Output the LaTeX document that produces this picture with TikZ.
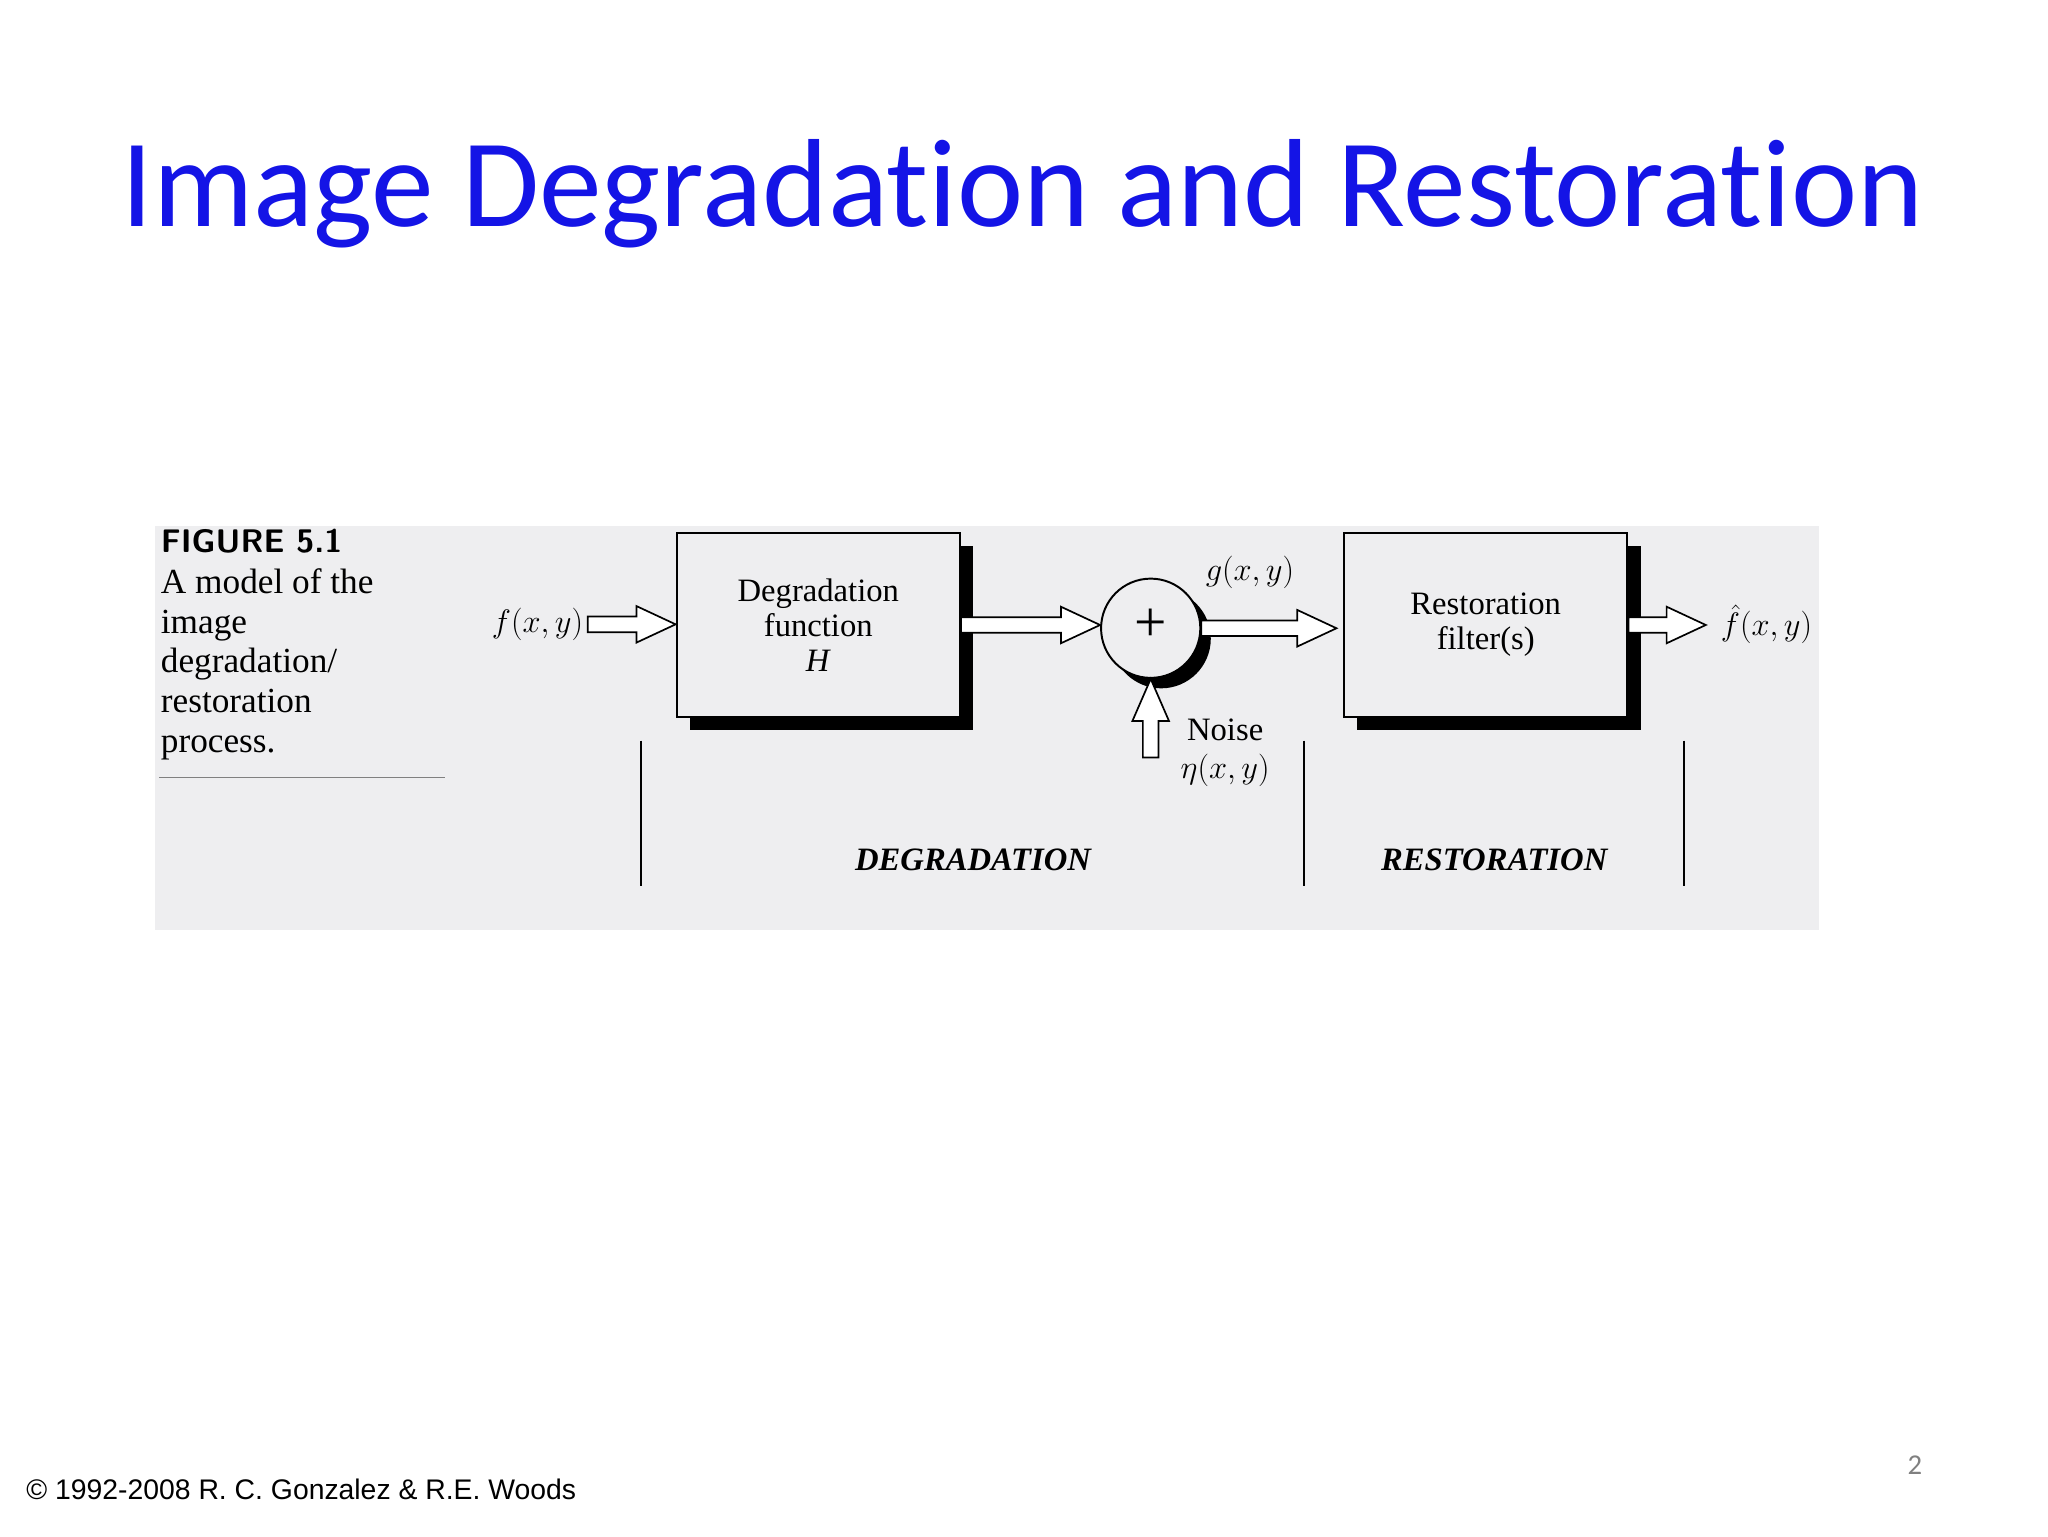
\documentclass[tikz,border=0pt]{standalone}
\usepackage{fontspec}
\newfontfamily\titlefont[Ligatures=NoCommon]{Carlito}
\newfontfamily\footfont{Liberation Sans}
\newfontfamily\figfont{Liberation Serif}
\usetikzlibrary{calc}
\definecolor{titleblue}{RGB}{20,20,230}
\definecolor{panel}{RGB}{238,238,240}
\tikzset{
  blk/.style={draw,line width=1.5pt,fill=panel,minimum width=217pt,minimum height=141pt,align=center,font=\figfont\fontsize{25}{27}\selectfont},
  sep/.style={line width=1.5pt},
  lbl/.style={font=\figfont\fontsize{25}{29}\selectfont},
  part/.style={font=\figfont\bfseries\itshape\fontsize{25}{28}\selectfont},
}
\newcommand{\harrow}[2]{\draw[line width=1.3pt,fill=white] let \p1=#1, \p2=#2 in
  (\x1,\y1-6) -- (\x2-30,\y1-6) -- (\x2-30,\y1-14) -- (\x2,\y1) -- (\x2-30,\y1+14) -- (\x2-30,\y1+6) -- (\x1,\y1+6) -- cycle;}
\begin{document}
\begin{tikzpicture}[x=1pt,y=-1pt]
\useasboundingbox[fill=white] (0,0) rectangle (1568,1176);
\node[text=titleblue,font=\titlefont\fontsize{96}{100}\selectfont] (title) at (783,148) {Image Degradation and Restoration};
\fill[panel] (119,403) rectangle (1393,712);
\node[anchor=north west,inner sep=0,font=\sffamily\bfseries\fontsize{25}{28}\selectfont] (fig) at (123,405) {FIGURE 5.1};
\node[anchor=north west,inner sep=0,align=left,font=\figfont\fontsize{27}{30.5}\selectfont] (cap) at (123,435) {A model of the\\image\\degradation/\\restoration\\process.};
\draw[gray,line width=1pt] (122,595) -- (341,595);
\fill (528,418) rectangle (745,559);
\node[blk] (b1) at (626.5,478.5) {Degradation\\function\\\textit{H}};
\fill (1039,418) rectangle (1256,559);
\node[blk] (b2) at (1137.5,478.5) {Restoration\\filter(s)};
\fill (889,489) circle (38);
\node[draw,circle,line width=1.5pt,fill=panel,minimum size=76pt,inner sep=0] (sum) at (881,481) {};
\node[font=\figfont\fontsize{44}{44}\selectfont,inner sep=0] (plus) at (881,479) {+};
\node[lbl,anchor=east] (f) at (450,478) {$f(x,y)$};
\node[lbl,anchor=west] (fh) at (1314,478) {$\hat f(x,y)$};
\node[lbl] (g) at (957,438) {$g(x,y)$};
\node[lbl,align=center] (noise) at (938,576) {Noise\\$\eta(x,y)$};
\coordinate (n0) at (881,580);
\harrow{(f.east)}{(b1.west)}
\harrow{(b1.east)}{($(sum.west)+(0,-3)$)}
\harrow{(sum.east)}{($(b2.west)+(-5,0)$)}
\harrow{(b2.east)}{(1306,478)}
\draw[line width=1.3pt,fill=white] (n0) ++(-6,0) -- ++(0,-28) -- ++(-8,0) -- (sum.south) -- (895,552) -- ++(-8,0) -- ++(0,28) -- cycle;
\draw[sep] (491,567) -- (491,678);
\draw[sep] (998,567) -- (998,678);
\draw[sep] (1289,567) -- (1289,678);
\node[part] (deg) at (745,658) {DEGRADATION};
\node[part] (res) at (1144,658) {RESTORATION};
\node[anchor=west,inner sep=0,font=\footfont\fontsize{21.7}{22}\selectfont] (foot) at (20,1140) {© 1992-2008 R. C. Gonzalez \& R.E. Woods};
\node[text=gray,font=\titlefont\fontsize{22}{22}\selectfont] (pg) at (1466,1122) {2};
\end{tikzpicture}
\end{document}
